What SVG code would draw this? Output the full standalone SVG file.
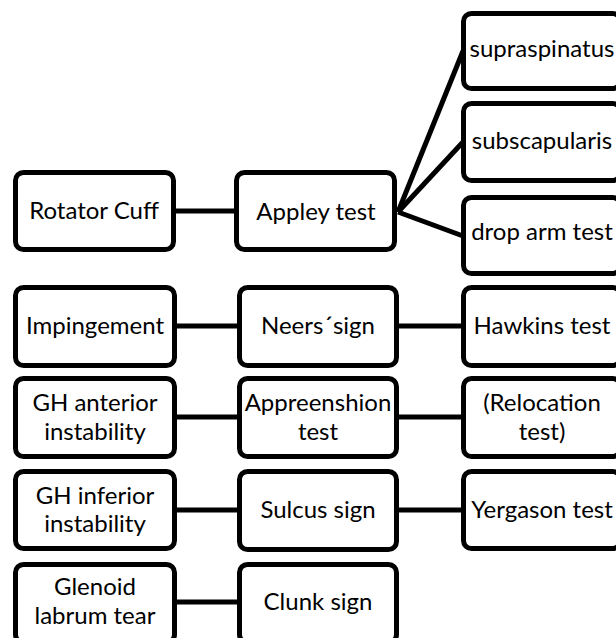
<svg xmlns="http://www.w3.org/2000/svg" width="616" height="638" viewBox="0 0 616 638">
<style>
.box{fill:#fff;stroke:#000;stroke-width:5}
.lbl{font-family:Lato,"Liberation Sans",sans-serif;font-size:24px;fill:#000;text-anchor:middle}
.con{stroke:#000;stroke-width:5;fill:none}
</style>
<rect width="616" height="638" fill="#fff"/>
<g id="connectors">
<line class="con" x1="176" y1="211" x2="236" y2="211"/>
<line class="con" x1="398" y1="212" x2="463" y2="51"/>
<line class="con" x1="398" y1="212" x2="463" y2="142"/>
<line class="con" x1="398" y1="212" x2="463" y2="236"/>
<line class="con" x1="176" y1="326" x2="237" y2="326"/>
<line class="con" x1="399" y1="326" x2="462" y2="326"/>
<line class="con" x1="176" y1="417" x2="237" y2="417"/>
<line class="con" x1="399" y1="417" x2="462" y2="417"/>
<line class="con" x1="176" y1="510" x2="237" y2="510"/>
<line class="con" x1="399" y1="510" x2="462" y2="510"/>
<line class="con" x1="176" y1="602" x2="237" y2="602"/>
</g>
<g id="supraspinatus"><rect class="box" x="463.5" y="13.5" width="157" height="75" rx="8"/><text class="lbl" x="542" y="57">supraspinatus</text></g>
<g id="subscapularis"><rect class="box" x="463.5" y="103.5" width="157" height="77" rx="8"/><text class="lbl" x="542" y="149">subscapularis</text></g>
<g id="droparm"><rect class="box" x="463.5" y="197.5" width="157" height="76" rx="8"/><text class="lbl" x="542" y="240">drop arm test</text></g>
<g id="rotator"><rect class="box" x="15.5" y="172.5" width="158" height="77" rx="8"/><text class="lbl" x="94" y="219">Rotator Cuff</text></g>
<g id="appley"><rect class="box" x="236.5" y="172.5" width="158" height="77" rx="8"/><text class="lbl" x="316" y="220">Appley test</text></g>
<g id="impingement"><rect class="box" x="15.5" y="287.5" width="159" height="78" rx="8"/><text class="lbl" x="95" y="334">Impingement</text></g>
<g id="neers"><rect class="box" x="239.5" y="287.5" width="157" height="78" rx="8"/><text class="lbl" x="318" y="334">Neers´sign</text></g>
<g id="hawkins"><rect class="box" x="463.5" y="287.5" width="157" height="78" rx="8"/><text class="lbl" x="542" y="334">Hawkins test</text></g>
<g id="ghanterior"><rect class="box" x="15.5" y="378.5" width="159" height="78" rx="8"/><text class="lbl" x="95" y="411">GH anterior</text><text class="lbl" x="95" y="440">instability</text></g>
<g id="apprehension"><rect class="box" x="239.5" y="378.5" width="157" height="78" rx="8"/><text class="lbl" x="318" y="411">Appreenshion</text><text class="lbl" x="318" y="440">test</text></g>
<g id="relocation"><rect class="box" x="463.5" y="378.5" width="157" height="78" rx="8"/><text class="lbl" x="542" y="411">(Relocation</text><text class="lbl" x="542" y="440">test)</text></g>
<g id="ghinferior"><rect class="box" x="15.5" y="471.5" width="159" height="77" rx="8"/><text class="lbl" x="95" y="504">GH inferior</text><text class="lbl" x="95" y="532">instability</text></g>
<g id="sulcus"><rect class="box" x="239.5" y="471.5" width="157" height="78" rx="8"/><text class="lbl" x="318" y="518">Sulcus sign</text></g>
<g id="yergason"><rect class="box" x="463.5" y="471.5" width="157" height="77" rx="8"/><text class="lbl" x="542" y="518">Yergason test</text></g>
<g id="glenoid"><rect class="box" x="15.5" y="564.5" width="159" height="78" rx="8"/><text class="lbl" x="95" y="595">Glenoid</text><text class="lbl" x="95" y="624">labrum tear</text></g>
<g id="clunk"><rect class="box" x="239.5" y="564.5" width="157" height="78" rx="8"/><text class="lbl" x="318" y="610">Clunk sign</text></g>
</svg>
